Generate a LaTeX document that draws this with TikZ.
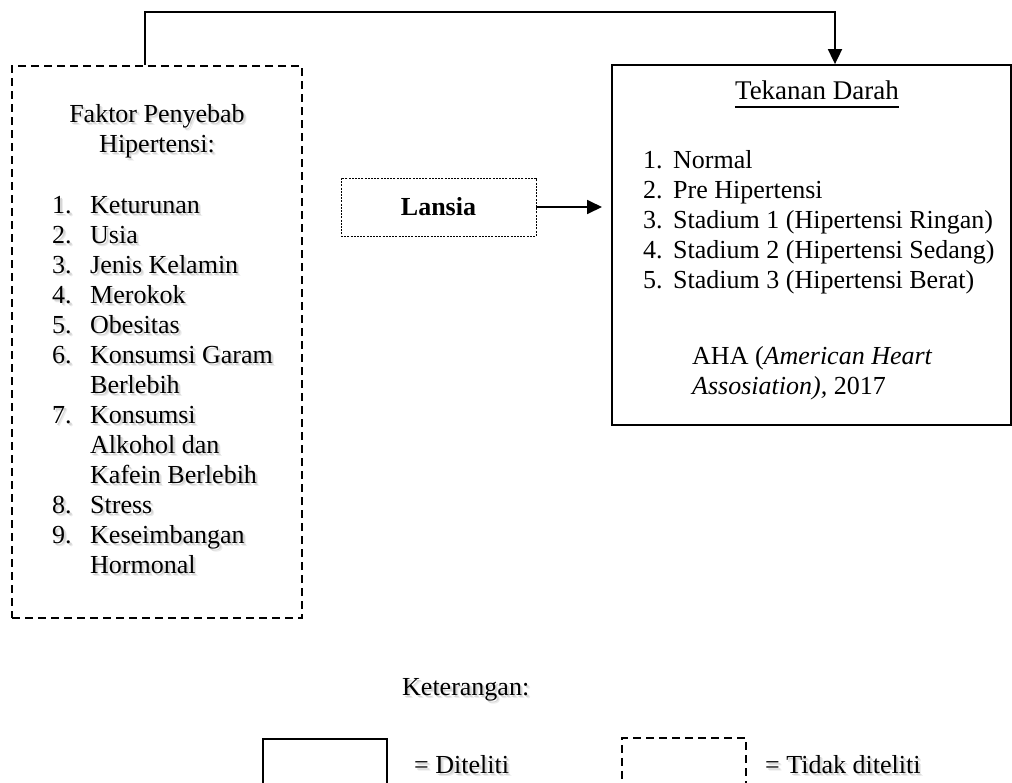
\documentclass[tikz,border=0pt]{standalone}
\usepackage{fontspec}
\setmainfont{Liberation Serif}
\usetikzlibrary{arrows.meta}
\begin{document}
\begin{tikzpicture}[x=1pt,y=-1pt, font=\fontsize{26}{30}\selectfont,
  txt/.style={inner sep=0pt, anchor=base west},
  ctxt/.style={inner sep=0pt, anchor=base},
  solidbox/.style={draw, line width=1.8pt, rectangle, inner sep=0pt},
  dashbox/.style={draw, line width=1.8pt, rectangle, inner sep=0pt, dash pattern=on 8pt off 5pt},
  dotbox/.style={draw, line width=0.9pt, rectangle, inner sep=0pt, dash pattern=on 2pt off 1.2pt},
  conn/.style={line width=1.8pt, -{Triangle[length=15pt,width=14pt]}}]
\useasboundingbox (0,0) rectangle (1012,782);
\clip (0,0) rectangle (1012,782);

% boxes
\node[dashbox, minimum width=290pt, minimum height=552pt] (faktor) at (157,342) {};
\node[solidbox, minimum width=399pt, minimum height=360pt] (tekanan) at (811.5,245) {};
\node[dotbox, minimum width=195pt, minimum height=58pt] (lansia) at (438.5,207) {};
\node[ctxt, font=\fontsize{26}{30}\selectfont\bfseries] (lansiat) at (438.5,215) {Lansia};

% shadowed texts (left box and legend): soft grey drop shadow first, then black text
\foreach \sx/\sy/\col/\suf in {3/3.5/black!8/t, 1.8/2.2/black!16/s, 0/0/black/} {
  \begin{scope}[shift={(\sx,\sy)}, text=\col]
    \node[ctxt] (f1\suf) at (157,122) {Faktor Penyebab};
    \node[ctxt] (f2\suf) at (157,152) {Hipertensi:};
    \foreach \n/\t/\y in {n1/1./213, n2/2./243, n3/3./273, n4/4./303, n5/5./333, n6/6./363, n7/7./423, n8/8./513, n9/9./543}
      \node[txt] (\n\suf) at (52,\y) {\t};
    \foreach \n/\t/\y in {a1/Keturunan/213, a2/Usia/243, a3/Jenis Kelamin/273, a4/Merokok/303, a5/Obesitas/333,
      a6/Konsumsi Garam/363, a6b/Berlebih/393, a7/Konsumsi/423, a7b/Alkohol dan/453, a7c/Kafein Berlebih/483,
      a8/Stress/513, a9/Keseimbangan/543, a9b/Hormonal/573}
      \node[txt] (\n\suf) at (90,\y) {\t};
    \node[txt] (ket\suf) at (402,695) {Keterangan:};
    \node[txt] (l1\suf) at (414,773) {= Diteliti};
    \node[txt] (l2\suf) at (765,773) {= Tidak diteliti};
  \end{scope}
}

% right box text
\node[ctxt, font=\fontsize{27}{30}\selectfont] (title) at (817,99) {Tekanan Darah};
\draw[line width=1.4pt] ([yshift=-8pt]title.base west) -- ([yshift=-8pt]title.base east);
\foreach \n/\t/\y in {r1/1./168, r2/2./198, r3/3./228, r4/4./258, r5/5./288}
  \node[txt] (\n) at (643,\y) {\t};
\foreach \n/\t/\y in {b1/Normal/168, b2/Pre Hipertensi/198, b3/Stadium 1 (Hipertensi Ringan)/228,
  b4/Stadium 2 (Hipertensi Sedang)/258, b5/Stadium 3 (Hipertensi Berat)/288}
  \node[txt] (\n) at (673,\y) {\t};
\node[txt] (aha1) at (692,364) {AHA (\textit{American Heart}};
\node[txt] (aha2) at (692,394) {\textit{Assosiation),} 2017};

% connectors
\coordinate (c1) at (145,12);
\coordinate (c2) at (835,12);
\draw[conn] (faktor.north -| c1) -- (c1) -- (c2) -- (tekanan.north -| c2);
\coordinate (c3) at (602,207);
\draw[conn] (lansia.east) -- (c3);

% legend boxes
\node[solidbox, minimum width=124pt, minimum height=70pt, anchor=north east] (legsolid) at (388,738) {};
\node[dashbox, minimum width=124pt, minimum height=70pt, anchor=north west] (legdash) at (621,737) {};
\end{tikzpicture}
\end{document}
